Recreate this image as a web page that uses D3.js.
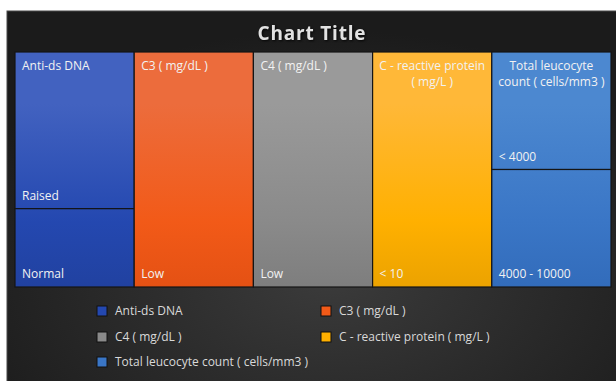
<!doctype html>
<html>
<head>
<meta charset="utf-8">
<script src="https://d3js.org/d3.v7.min.js"></script>
<style>
body { margin: 0; background: #fff; }
text { font-family: "Open Sans", sans-serif; }
</style>
</head>
<body>
<svg id="chart" width="616" height="381"></svg>
<script>
// data
var groups = ["Anti-ds DNA", "C3 ( mg/dL )", "C4 ( mg/dL )", "C - reactive protein ( mg/L )", "Total leucocyte count ( cells/mm3 )"];
var leafNames = [["Raised", "Normal"], ["Low"], ["Low"], ["< 10"], ["< 4000", "4000 - 10000"]];
var leafValues = [[4, 2], [6], [6], [6], [3, 3]];
var colors = [
  ["#4262c0", "#2448b0", "#1e3c94"],
  ["#ec6c3c", "#f25a18", "#da4a10"],
  ["#9a9a9a", "#8a8a8a", "#747474"],
  ["#ffb838", "#ffb000", "#dc9800"],
  ["#4c88d0", "#3a76c6", "#2c64b2"]
];

var svg = d3.select("#chart");
var defs = svg.append("defs");

var bg = defs.append("radialGradient").attr("id", "bg")
  .attr("cx", "52%").attr("cy", "70%").attr("r", "65%");
bg.append("stop").attr("offset", "0%").attr("stop-color", "#3b3b3b");
bg.append("stop").attr("offset", "100%").attr("stop-color", "#1b1b1b");

svg.append("rect")
  .attr("x", 7).attr("y", 11).attr("width", 620).attr("height", 380)
  .attr("fill", "url(#bg)")
  .attr("stroke", "#4a4a4a").attr("stroke-width", 1);

svg.append("text")
  .attr("x", 312).attr("y", 40)
  .attr("text-anchor", "middle")
  .style("font-size", "19px").style("font-weight", "bold")
  .style("letter-spacing", "0.8px")
  .attr("fill", "#e2e2e2")
  .style("filter", "drop-shadow(1px 1px 1px rgba(0,0,0,0.8))")
  .text("Chart Title");

var plot = {x0: 15, y0: 52, x1: 611, y1: 287};

colors.forEach(function(c, i) {
  var g = defs.append("linearGradient").attr("id", "grad" + i)
    .attr("gradientUnits", "userSpaceOnUse")
    .attr("x1", 0).attr("x2", 0).attr("y1", plot.y0).attr("y2", plot.y1);
  g.append("stop").attr("offset", "0%").attr("stop-color", c[0]);
  g.append("stop").attr("offset", "50%").attr("stop-color", c[1]);
  g.append("stop").attr("offset", "100%").attr("stop-color", c[2]);
});

var rootData = {
  name: "root",
  children: groups.map(function(g, i) {
    return {
      name: g, index: i,
      children: leafNames[i].map(function(n, j) {
        return {name: n, value: leafValues[i][j], index: i};
      })
    };
  })
};

var root = d3.hierarchy(rootData).sum(function(d) { return d.value || 0; });

d3.treemap()
  .size([plot.x1 - plot.x0, plot.y1 - plot.y0])
  .tile(function(node, x0, y0, x1, y1) {
    if (node.depth === 0) d3.treemapDice(node, x0, y0, x1, y1);
    else d3.treemapSlice(node, x0, y0, x1, y1);
  })(root);

var g = svg.append("g").attr("transform", "translate(" + plot.x0 + "," + plot.y0 + ")");

g.selectAll("rect.leaf")
  .data(root.leaves())
  .enter().append("rect")
  .attr("class", "leaf")
  .attr("x", function(d) { return d.x0; })
  .attr("y", function(d) { return d.y0; })
  .attr("width", function(d) { return d.x1 - d.x0; })
  .attr("height", function(d) { return d.y1 - d.y0; })
  .attr("fill", function(d) { return "url(#grad" + d.data.index + ")"; })
  .attr("stroke", "#151515").attr("stroke-width", 1.2);

// leaf labels, bottom left
g.selectAll("text.leaf")
  .data(root.leaves())
  .enter().append("text")
  .attr("x", function(d) { return d.x0 + 7; })
  .attr("y", function(d) { return d.y1 - 9; })
  .style("font-size", "12px")
  .attr("fill", "#f2f2f2")
  .text(function(d) { return d.data.name; });

// group labels, top, wrapped (a "( unit )" part stays together)
root.children.forEach(function(node) {
  var w = node.x1 - node.x0;
  var maxW = w - 4;
  var t = g.append("text")
    .style("font-size", "12px")
    .attr("fill", "#f2f2f2");
  var words = node.data.name.match(/\([^)]*\)|\S+/g);
  var lines = [];
  var line = [];
  var probe = t.append("tspan");
  words.forEach(function(wd) {
    line.push(wd);
    probe.text(line.join(" "));
    if (probe.node().getComputedTextLength() > maxW && line.length > 1) {
      line.pop();
      lines.push(line.join(" "));
      line = [wd];
    }
  });
  lines.push(line.join(" "));
  probe.remove();
  var centered = lines.length > 1;
  lines.forEach(function(l, k) {
    t.append("tspan")
      .attr("x", centered ? (node.x0 + node.x1) / 2 : node.x0 + 7)
      .attr("y", node.y0 + 18 + k * 15.5)
      .attr("text-anchor", centered ? "middle" : "start")
      .text(l);
  });
});

// legend
var legendX = [97, 321];
var legendY = [311, 337, 362];
var legend = svg.append("g");
groups.forEach(function(name, i) {
  var lx = legendX[i % 2], ly = legendY[Math.floor(i / 2)];
  legend.append("rect")
    .attr("x", lx).attr("y", ly - 5).attr("width", 10).attr("height", 10)
    .attr("fill", colors[i][1])
    .attr("stroke", "#111").attr("stroke-width", 1);
  legend.append("text")
    .attr("x", lx + 18).attr("y", ly + 4)
    .style("font-size", "12px")
    .attr("fill", "#d9d9d9")
    .text(name);
});
</script>
</body>
</html>
